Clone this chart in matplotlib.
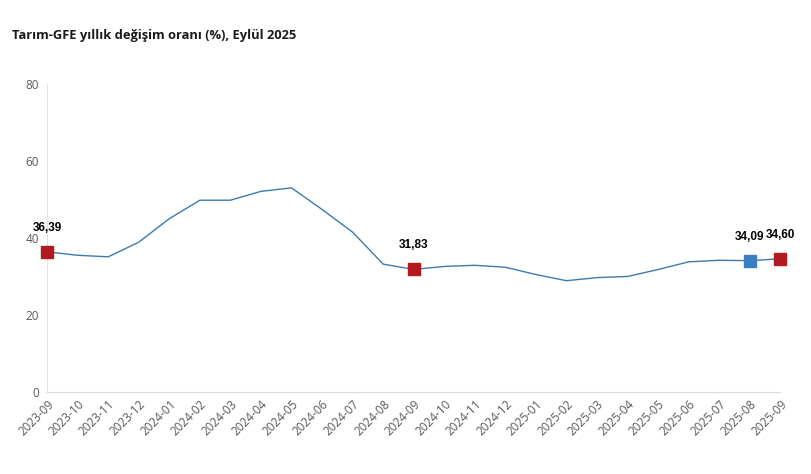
import matplotlib.pyplot as plt

# ----------------------------
# Data
# ----------------------------
months = [
    "2023-09", "2023-10", "2023-11", "2023-12", "2024-01", "2024-02", "2024-03",
    "2024-04", "2024-05", "2024-06", "2024-07", "2024-08", "2024-09", "2024-10",
    "2024-11", "2024-12", "2025-01", "2025-02", "2025-03", "2025-04", "2025-05",
    "2025-06", "2025-07", "2025-08", "2025-09",
]
values = [
    36.39, 35.5, 35.1, 38.9, 45.0, 49.8, 49.8, 52.1, 53.0, 47.4, 41.5, 33.2,
    31.83, 32.6, 32.9, 32.4, 30.5, 28.9, 29.7, 30.0, 31.8, 33.8, 34.2, 34.09, 34.60,
]
red_points = ["2023-09", "2024-09", "2025-09"]
blue_points = ["2025-08"]
y_ticks = [0, 20, 40, 60, 80]

title = "Tarım-GFE yıllık değişim oranı (%), Eylül 2025"

# ----------------------------
# Plot
# ----------------------------
fig = plt.figure(figsize=(8.12, 4.74), dpi=100)
ax = fig.add_axes([0.058, 0.173, 0.903, 0.65])

x = list(range(len(months)))
ax.plot(x, values, color="#3b7bb0", linewidth=1.0, zorder=2)

for name, color in [(red_points, "#b3191e"), (blue_points, "#3a7fc1")]:
    for m in name:
        i = months.index(m)
        ax.plot(i, values[i], marker="s", markersize=9, color=color,
                linestyle="none", zorder=3, clip_on=False)
        ax.annotate(f"{values[i]:.2f}".replace(".", ","), (i, values[i]),
                    xytext=(0, 13), textcoords="offset points", ha="center",
                    va="bottom", fontsize=8.5, fontweight="bold",
                    family="Liberation Sans", color="black")

ax.set_xlim(0, len(months) - 1)
ax.set_ylim(0, 80)
ax.set_yticks(y_ticks)
ax.set_xticks(x)
ax.set_xticklabels(months, rotation=45, ha="right", rotation_mode="anchor",
                   fontsize=8.5, color="#595959", family="Open Sans")
for lbl in ax.get_yticklabels():
    lbl.set_fontsize(8.5)
    lbl.set_color("#595959")
    lbl.set_family("Open Sans")

ax.tick_params(axis="both", length=0, pad=6)
ax.tick_params(axis="x", pad=4)
for side in ["top", "right"]:
    ax.spines[side].set_visible(False)
ax.spines["left"].set_color("#e3e3e3")
ax.spines["bottom"].set_color("#d9d9d9")

fig.text(0.015, 0.925, title, fontsize=9.3, fontweight="bold",
         family="Open Sans", color="#1a1a1a", va="center")

fig.savefig("out.png", dpi=100)
plt.close(fig)
